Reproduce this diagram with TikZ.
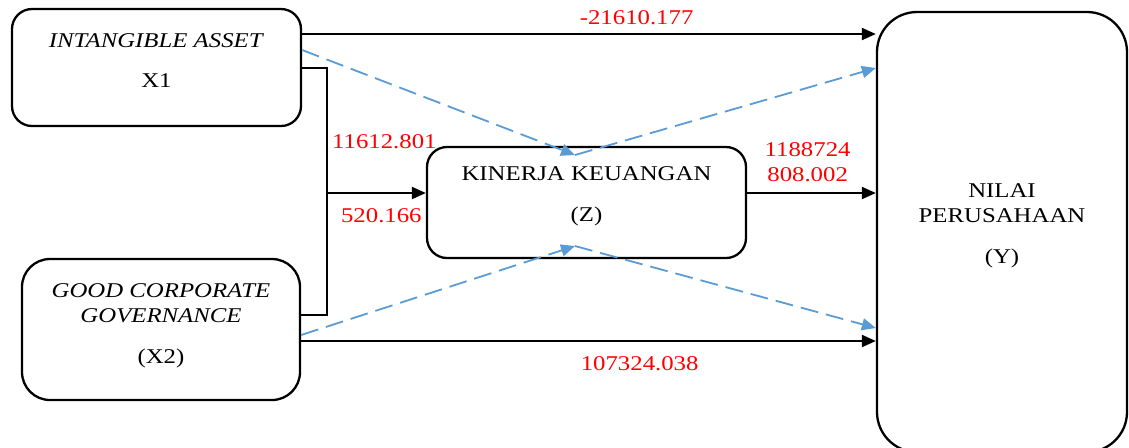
\documentclass[tikz,border=0pt]{standalone}
\usepackage{fontspec}
\setmainfont{Liberation Serif}[FakeStretch=1.18]
\usetikzlibrary{positioning, arrows.meta}
\definecolor{pathblue}{RGB}{91, 155, 213}
\definecolor{coefred}{RGB}{255, 0, 0}

\begin{document}
\begin{tikzpicture}[x=0.5pt, y=-0.5pt,
    vbox/.style={draw=black, line width=1.15pt, rounded corners=10pt,
        inner sep=0pt},
    vtext/.style={align=center, inner sep=0pt,
        font=\fontsize{10.5}{12.5}\selectfont},
    arr/.style={line width=1pt, -{Triangle[length=7pt, width=6pt]}},
    dasharr/.style={draw=pathblue, line width=0.9pt,
        dash pattern=on 9pt off 4pt, -{Triangle[length=7pt, width=6pt]}},
    coef/.style={text=coefred, inner sep=2pt, align=center,
        font=\fontsize{10.5}{12.5}\selectfont}
]
    \clip (0, 0) rectangle (1129, 447);

    % variables
    \node[vbox, minimum width=144.5pt, minimum height=58.5pt] (x1) at (156.5, 67.5) {};
    \node[vtext, yshift=3.5pt] (x1txt) at (x1)
        {\textit{INTANGIBLE ASSET}\\[7.5pt]X1};

    \node[vbox, rounded corners=14pt, minimum width=139pt,
          minimum height=70.5pt] (x2) at (161, 329.5) {};
    \node[vtext, yshift=1.75pt] (x2txt) at (x2)
        {\textit{GOOD CORPORATE}\\\textit{GOVERNANCE}\\[8pt](X2)};

    \node[vbox, minimum width=159.5pt, minimum height=55.5pt] (z) at (586.5, 202.5) {};
    \node[vtext, yshift=3pt] (ztxt) at (z)
        {KINERJA KEUANGAN\\[8pt](Z)};

    \node[vbox, rounded corners=20pt, minimum width=125pt,
          minimum height=220pt] (y) at (1002, 232) {};
    \node[vtext, yshift=3pt] (ytxt) at (y)
        {NILAI\\PERUSAHAAN\\[8pt](Y)};

    \coordinate (junc) at (327, 193);
    \coordinate (zt) at (575, 155);
    \coordinate (zb) at (575, 246);

    % direct paths
    \draw[arr] (x1.east |- 0, 34) -- (y.west |- 0, 34)
        node[coef, above=2pt, pos=0.583] {-21610.177};
    \draw[arr] (x2.east |- 0, 341) -- (y.west |- 0, 341)
        node[coef, below=5.5pt, pos=0.589] {107324.038};

    \draw[line width=1pt] (x1.east) -| (junc);
    \draw[line width=1pt] (x2.east |- 0, 315) -| (junc);
    \draw[arr] (junc) -- (z.west |- junc)
        node[coef, above=19.5pt, pos=0.58] {11612.801}
        node[coef, below=5.5pt, pos=0.55] {520.166};

    \draw[arr] (z.east |- junc) -- (y.west |- junc)
        node[coef, above=3pt, pos=0.47] {1188724\\808.002};

    % mediation
    \draw[dasharr] (x1.east |- 0, 50) -- (zt);
    \draw[dasharr] (zt) -- (y.west |- 0, 68);
    \draw[dasharr] (x2.east |- 0, 335) -- (zb);
    \draw[dasharr] (zb) -- (y.west |- 0, 328);

\end{tikzpicture}
\end{document}
